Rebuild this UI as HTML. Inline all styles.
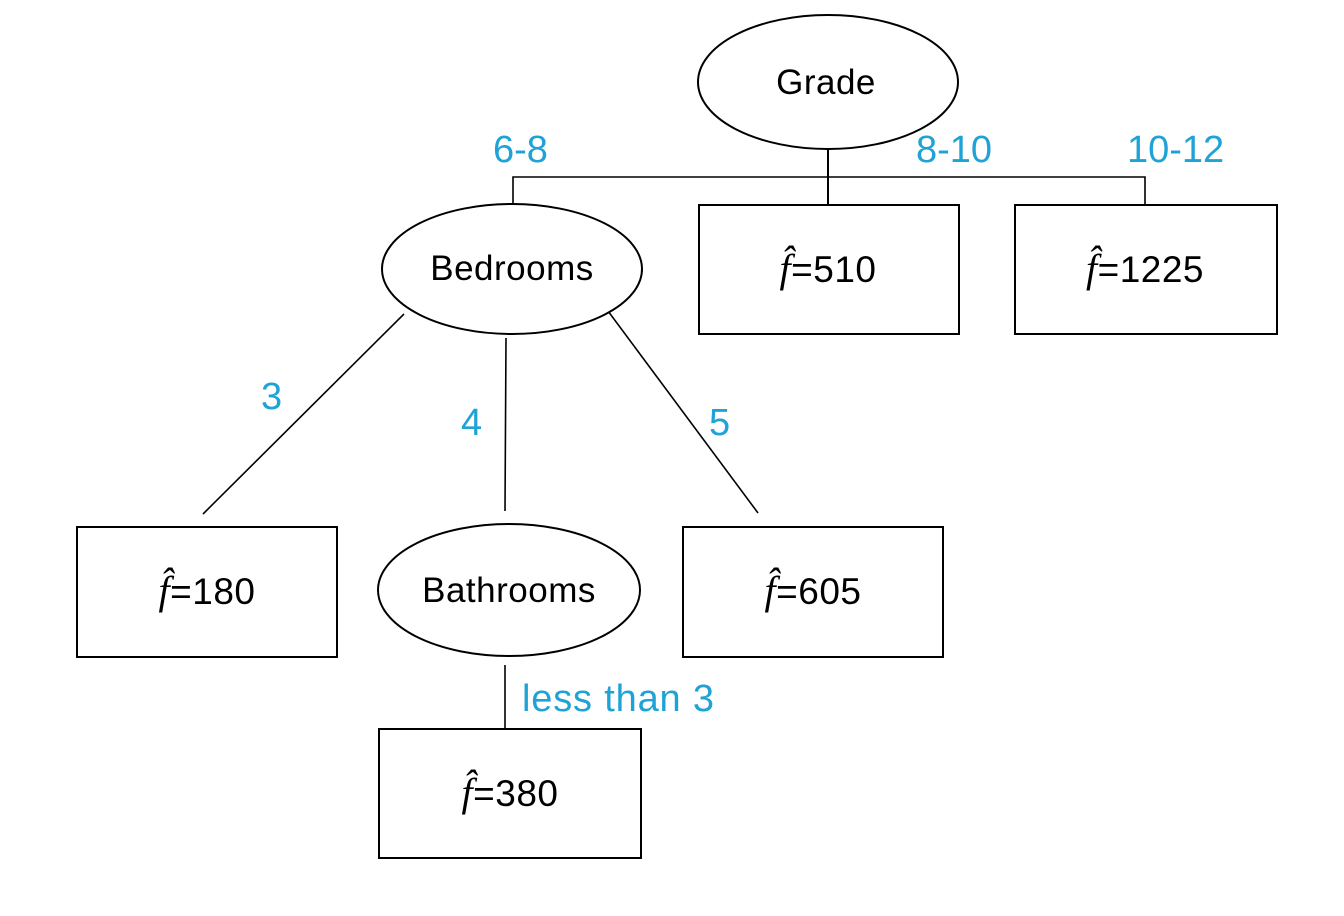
<!DOCTYPE html>
<html><head><meta charset="utf-8"><style>
html,body{margin:0;padding:0;background:#fff;}
svg{display:block;}
.n{font-family:"Liberation Sans",sans-serif;font-size:35px;fill:#000;text-anchor:middle;letter-spacing:0.5px;}
.l{font-size:37px;}
.b{font-family:"Liberation Sans",sans-serif;font-size:38px;fill:#1fa3d6;}
.f{font-family:"Liberation Serif",serif;font-style:italic;font-size:40px;}
</style></head><body>
<svg width="1344" height="916" viewBox="0 0 1344 916">
<g stroke="#000" stroke-width="2" fill="none">
<line x1="828" y1="149" x2="828" y2="205"/>
<polyline points="513,205 513,177 1145,177 1145,205" stroke-width="1.6"/>
<line x1="404" y1="314" x2="203" y2="514" stroke-width="1.6"/>
<line x1="506" y1="338" x2="505" y2="511" stroke-width="1.6"/>
<line x1="608" y1="311" x2="758" y2="513" stroke-width="1.6"/>
<line x1="505" y1="665" x2="505" y2="740" stroke-width="1.6"/>
</g>
<g stroke="#000" stroke-width="2" fill="#fff">
<ellipse cx="828" cy="82" rx="130" ry="67"/>
<ellipse cx="512" cy="269" rx="130" ry="65"/>
<ellipse cx="509" cy="590" rx="131" ry="66"/>
<rect x="699" y="205" width="260" height="129"/>
<rect x="1015" y="205" width="262" height="129"/>
<rect x="77" y="527" width="260" height="130"/>
<rect x="683" y="527" width="260" height="130"/>
<rect x="379" y="729" width="262" height="129"/>
</g>
<text class="n" x="826" y="94">Grade</text>
<text class="n" x="512" y="280">Bedrooms</text>
<text class="n" x="509" y="602">Bathrooms</text>
<text class="n l" x="828" y="282"><tspan class="f">f̂</tspan>=510</text>
<text class="n l" x="1145" y="282"><tspan class="f">f̂</tspan>=1225</text>
<text class="n l" x="207" y="604"><tspan class="f">f̂</tspan>=180</text>
<text class="n l" x="813" y="604"><tspan class="f">f̂</tspan>=605</text>
<text class="n l" x="510" y="806"><tspan class="f">f̂</tspan>=380</text>
<text class="b" x="493" y="162">6-8</text>
<text class="b" x="916" y="162">8-10</text>
<text class="b" x="1127" y="162">10-12</text>
<text class="b" x="261" y="409">3</text>
<text class="b" x="461" y="435">4</text>
<text class="b" x="709" y="435">5</text>
<text class="b" x="522" y="711" textLength="192">less than 3</text>
</svg>
</body></html>
